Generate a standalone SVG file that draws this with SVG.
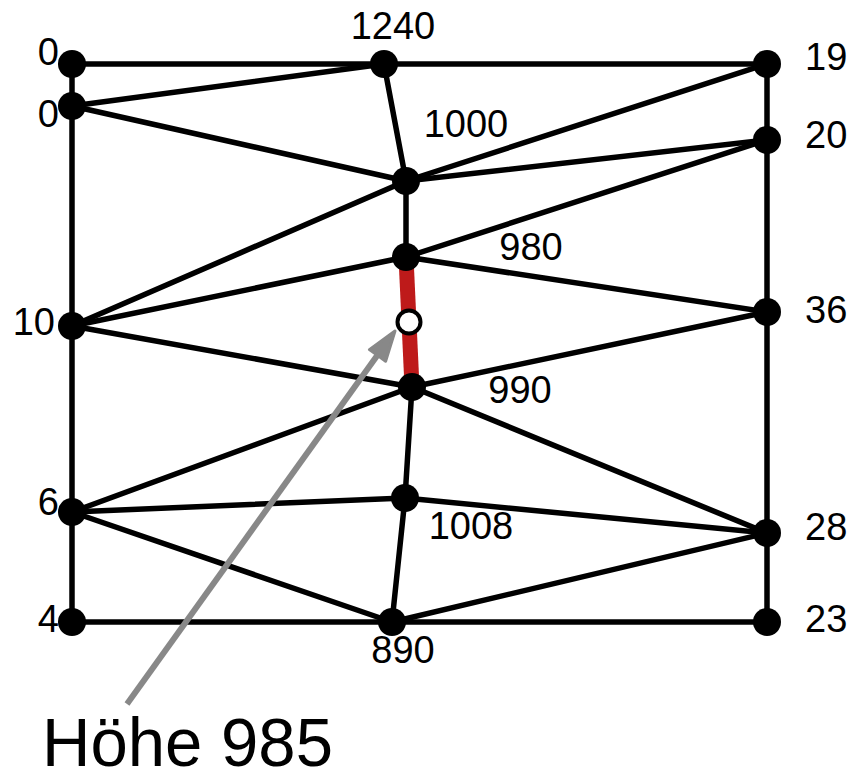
<svg xmlns="http://www.w3.org/2000/svg" width="854" height="772" viewBox="0 0 854 772">
<style>
.e{stroke:#000;stroke-width:5.5;stroke-linecap:round;fill:none}
.n{fill:#000}
.t{font-family:"Liberation Sans",Arial,sans-serif;font-size:38px;fill:#000}
.big{font-family:"Liberation Sans",Arial,sans-serif;font-size:68px;fill:#000}
</style>
<rect width="854" height="772" fill="#fff"/>
<g id="connectors">
<line class="e" x1="72" y1="64" x2="767" y2="64"/>
<line class="e" x1="72" y1="64" x2="72" y2="622"/>
<line class="e" x1="767" y1="64" x2="767" y2="622"/>
<line class="e" x1="72" y1="622" x2="767" y2="622"/>
<line class="e" x1="72" y1="106" x2="384" y2="64"/>
<line class="e" x1="384" y1="64" x2="406" y2="181"/>
<line class="e" x1="72" y1="106" x2="406" y2="181"/>
<line class="e" x1="406" y1="181" x2="767" y2="64"/>
<line class="e" x1="406" y1="181" x2="767" y2="140"/>
<line class="e" x1="406" y1="181" x2="406" y2="257"/>
<line class="e" x1="72" y1="326" x2="406" y2="181"/>
<line class="e" x1="72" y1="326" x2="406" y2="257"/>
<line class="e" x1="406" y1="257" x2="767" y2="140"/>
<line class="e" x1="406" y1="257" x2="767" y2="312"/>
<line class="e" x1="72" y1="326" x2="412" y2="387"/>
<line class="e" x1="412" y1="387" x2="767" y2="312"/>
<line class="e" x1="72" y1="512" x2="412" y2="387"/>
<line class="e" x1="412" y1="387" x2="405" y2="498"/>
<line class="e" x1="412" y1="387" x2="767" y2="533"/>
<line class="e" x1="72" y1="512" x2="405" y2="498"/>
<line class="e" x1="405" y1="498" x2="767" y2="533"/>
<line class="e" x1="72" y1="512" x2="392" y2="622"/>
<line class="e" x1="405" y1="498" x2="392" y2="622"/>
<line class="e" x1="392" y1="622" x2="767" y2="533"/>
<line x1="406" y1="257" x2="412" y2="387" stroke="#BE1A1A" stroke-width="15"/>
</g>
<g id="nodes">
<g id="n1"><circle class="n" cx="72" cy="64" r="14"/><text class="t" x="59" y="65" text-anchor="end">0</text></g>
<g id="n2"><circle class="n" cx="384" cy="64" r="14"/><text class="t" x="393" y="39" text-anchor="middle">1240</text></g>
<g id="n3"><circle class="n" cx="767" cy="64" r="14"/><text class="t" x="805" y="70">19</text></g>
<g id="n4"><circle class="n" cx="72" cy="106" r="14"/><text class="t" x="59" y="127" text-anchor="end">0</text></g>
<g id="n5"><circle class="n" cx="406" cy="181" r="14"/><text class="t" x="466" y="137" text-anchor="middle">1000</text></g>
<g id="n6"><circle class="n" cx="767" cy="140" r="14"/><text class="t" x="805" y="148">20</text></g>
<g id="n7"><circle class="n" cx="406" cy="257" r="14"/><text class="t" x="531" y="260" text-anchor="middle">980</text></g>
<g id="n8"><circle class="n" cx="72" cy="326" r="14"/><text class="t" x="55" y="335" text-anchor="end">10</text></g>
<g id="n9"><circle class="n" cx="767" cy="312" r="14"/><text class="t" x="805" y="323">36</text></g>
<g id="n10"><circle class="n" cx="412" cy="387" r="14"/><text class="t" x="520" y="403" text-anchor="middle">990</text></g>
<g id="n11"><circle class="n" cx="72" cy="512" r="14"/><text class="t" x="59" y="515" text-anchor="end">6</text></g>
<g id="n12"><circle class="n" cx="405" cy="498" r="14"/><text class="t" x="471" y="539" text-anchor="middle">1008</text></g>
<g id="n13"><circle class="n" cx="767" cy="533" r="14"/><text class="t" x="805" y="540">28</text></g>
<g id="n14"><circle class="n" cx="72" cy="622" r="14"/><text class="t" x="59" y="632" text-anchor="end">4</text></g>
<g id="n15"><circle class="n" cx="392" cy="622" r="14"/><text class="t" x="403" y="663" text-anchor="middle">890</text></g>
<g id="n16"><circle class="n" cx="767" cy="622" r="14"/><text class="t" x="805" y="632">23</text></g>
<g id="n17"><circle cx="409" cy="322" r="11.5" fill="#fff" stroke="#000" stroke-width="4"/></g>
</g>
<g id="arrow">
<line x1="127" y1="704" x2="379" y2="353" stroke="#888" stroke-width="6"/>
<polygon points="395,331 385.6,361.2 377.5,355.4 369.4,349.6" fill="#888" stroke="#888" stroke-width="3" stroke-linejoin="round"/>
<text class="big" x="42" y="766" textLength="291" lengthAdjust="spacingAndGlyphs">Höhe 985</text>
</g>
</svg>
